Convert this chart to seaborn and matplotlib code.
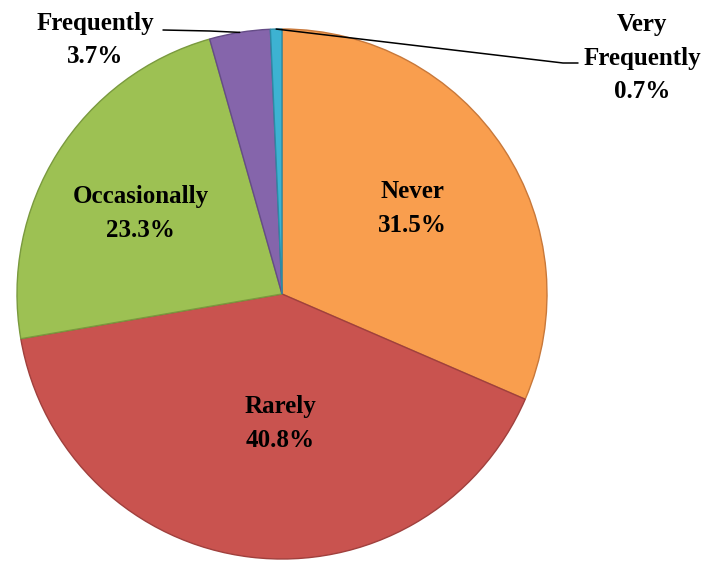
import numpy as np
import matplotlib
matplotlib.use("Agg")
import matplotlib.pyplot as plt
import seaborn as sns

# data
categories = ["Never", "Rarely", "Occasionally", "Frequently", "Very\nFrequently"]
percents = [31.5, 40.8, 23.3, 3.7, 0.7]
colors = ["#F99E4E", "#C9534F", "#9DC153", "#8565AB", "#3DB2D2"]
edge_colors = ["#C8783A", "#A0403D", "#7A9A3E", "#654C87", "#2C8BA5"]

sns.set_theme(style="white")
plt.rcParams["font.family"] = ["Liberation Serif", "DejaVu Serif"]

W, H = 723, 564
fig = plt.figure(figsize=(W / 100, H / 100), dpi=100)
ax = fig.add_axes([0, 0, 1, 1])

cx, cy, R = 282, 270, 265
wedges, _ = ax.pie(percents, colors=colors, startangle=90, counterclock=False,
                   radius=R, center=(cx, cy), frame=True,
                   wedgeprops=dict(linewidth=1.0))
for w, ec in zip(wedges, edge_colors):
    w.set_edgecolor(ec)
ax.set_xlim(0, W)
ax.set_ylim(0, H)
ax.set_axis_off()

font = dict(fontsize=18, fontweight="bold", color="black", ha="center", va="center",
            linespacing=1.6)

# inside labels placed along each wedge's mid angle
inside_dist = {0: 0.59, 1: 0.49, 2: 0.615}
inside_shift = {1: 6, 2: 2.6}  # small angular nudges (deg)
for i, d in inside_dist.items():
    w = wedges[i]
    ang = np.deg2rad((w.theta1 + w.theta2) / 2 + inside_shift.get(i, 0))
    x = cx + d * R * np.cos(ang)
    y = cy + d * R * np.sin(ang)
    ax.text(x, y, f"{categories[i]}\n{percents[i]:.1f}%", **font)


def edge_point(w):
    ang = np.deg2rad((w.theta1 + w.theta2) / 2)
    return cx + R * np.cos(ang), cy + R * np.sin(ang)


# Frequently (outside, left)
px, py = edge_point(wedges[3])
ax.text(95, H - 40, f"{categories[3]}\n{percents[3]:.1f}%", **font)
ax.plot([163, 210, px], [H - 30, H - 31, py], color="black", lw=1.1)

# Very Frequently (outside, right)
px, py = edge_point(wedges[4])
ax.text(642, H - 58, f"{categories[4]}\n{percents[4]:.1f}%", **font)
ax.plot([px, 563, 578], [py, H - 63, H - 63], color="black", lw=1.1)

fig.savefig("out.png", dpi=100, facecolor="white")
